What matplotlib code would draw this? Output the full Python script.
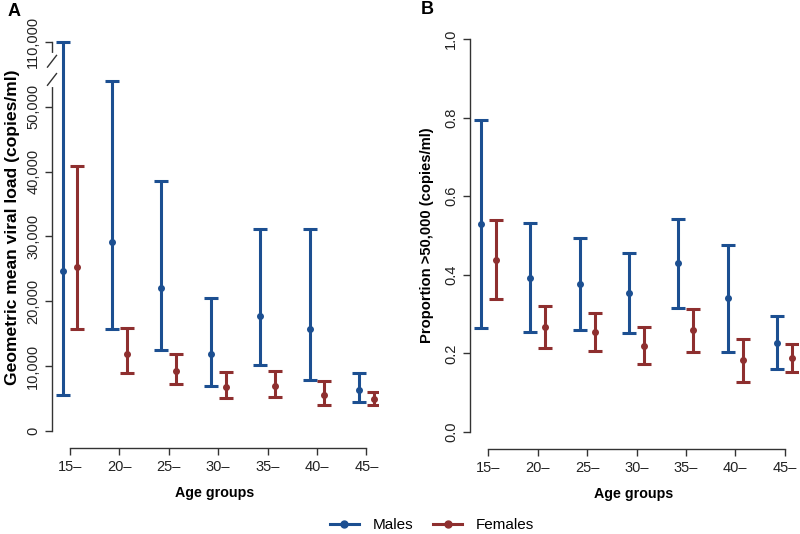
import matplotlib
matplotlib.use("Agg")
import matplotlib.pyplot as plt
import matplotlib.transforms as mtransforms
from matplotlib.lines import Line2D
import numpy as np

plt.rcParams['font.family'] = ['Liberation Sans', 'DejaVu Sans']

# data
age_groups = ["15–", "20–", "25–", "30–", "35–", "40–", "45–"]

# panel A: geometric mean viral load (copies/ml)
male_gm = [24700, 29100, 22000, 11900, 17800, 15700, 6300]
male_gm_lo = [5500, 15700, 12500, 6900, 10200, 7900, 4400]
male_gm_hi = [110000, 53900, 38600, 20500, 31100, 31200, 9000]
female_gm = [25300, 11900, 9300, 6800, 6900, 5600, 4900]
female_gm_lo = [15700, 8950, 7250, 5150, 5200, 3950, 4050]
female_gm_hi = [40800, 15950, 11900, 9100, 9250, 7750, 6050]

# panel B: proportion > 50,000 copies/ml
male_p = [0.529, 0.393, 0.377, 0.353, 0.429, 0.340, 0.227]
male_p_lo = [0.265, 0.254, 0.260, 0.251, 0.316, 0.204, 0.161]
male_p_hi = [0.795, 0.531, 0.494, 0.455, 0.542, 0.476, 0.295]
female_p = [0.438, 0.267, 0.254, 0.220, 0.259, 0.183, 0.188]
female_p_lo = [0.338, 0.215, 0.206, 0.173, 0.204, 0.128, 0.153]
female_p_hi = [0.539, 0.321, 0.302, 0.268, 0.314, 0.237, 0.223]

BLUE = "#1c4f91"
RED = "#8e2f2f"
AXC = "#333333"
OFF = 0.15


def squash(v):
    # values above the axis break are shifted down by 50,000
    v = np.asarray(v, dtype=float)
    return np.where(v > 60000, v - 50000, v)


def draw_series(ax, x, mid, lo, hi, color):
    mid, lo, hi = np.asarray(mid), np.asarray(lo), np.asarray(hi)
    ax.errorbar(x, mid, yerr=[mid - lo, hi - mid], fmt="o", color=color,
                ms=4, elinewidth=2.2, capsize=5, capthick=2.2)


def style_axes(ax):
    for s in ["top", "right"]:
        ax.spines[s].set_visible(False)
    for s in ["left", "bottom"]:
        ax.spines[s].set_color(AXC)
        ax.spines[s].set_linewidth(1.0)
    ax.tick_params(colors=AXC, labelcolor="#222222", labelsize=10.5,
                   length=5, width=1.0)
    ax.set_xticks(range(len(age_groups)))
    ax.set_xticklabels(age_groups)
    ax.spines["bottom"].set_bounds(0, len(age_groups) - 1)
    ax.set_xlabel("Age groups", fontsize=10.3, fontweight="bold", labelpad=9)


fig = plt.figure(figsize=(8, 5.34), dpi=100)
W, H = 800, 534

x = np.arange(len(age_groups))

# ---- panel A
axA = fig.add_axes([52 / W, (H - 448) / H, (378 - 52) / W, (448 - 34) / H])
draw_series(axA, x - OFF, squash(male_gm), squash(male_gm_lo), squash(male_gm_hi), BLUE)
draw_series(axA, x + OFF, squash(female_gm), squash(female_gm_lo), squash(female_gm_hi), RED)
axA.set_xlim(-0.364, (378 - 70) / 49.4)
axA.set_ylim(-2620, 61200)
style_axes(axA)
axA.set_yticks([0, 10000, 20000, 30000, 40000, 50000, 60000])
axA.set_yticklabels(["0", "10,000", "20,000", "30,000", "40,000", "50,000", "110,000"])
for lab in axA.get_yticklabels():
    lab.set_rotation(90)
    lab.set_va("center")
axA.spines["left"].set_bounds(0, 60000)
axA.set_ylabel("Geometric mean viral load (copies/ml)", fontsize=12.6,
               fontweight="bold", va="center")
axA.yaxis.set_label_coords((13 - 52) / 326, (448 - 227) / 414)

# axis break on the left spine
tr = mtransforms.blended_transform_factory(axA.transAxes, axA.transData)
axA.plot([0, 0], [53300, 57900], transform=tr, color="white", lw=3,
         clip_on=False, zorder=5)
dx = 4.5 / (378 - 52)
for yc in [54200, 57000]:
    axA.plot([-dx, dx], [yc - 900, yc + 900], transform=tr, color=AXC, lw=1.0,
             clip_on=False, zorder=6)

# ---- panel B
axB = fig.add_axes([470 / W, (H - 449) / H, (798 - 470) / W, (449 - 34) / H])
draw_series(axB, x - OFF, male_p, male_p_lo, male_p_hi, BLUE)
draw_series(axB, x + OFF, female_p, female_p_lo, female_p_hi, RED)
axB.set_xlim((470 - 488.3) / 49.4, (798 - 488.3) / 49.4)
axB.set_ylim(-17 / 393, 1 + 5 / 393)
style_axes(axB)
axB.set_yticks([0.0, 0.2, 0.4, 0.6, 0.8, 1.0])
axB.set_yticklabels(["0.0", "0.2", "0.4", "0.6", "0.8", "1.0"])
for lab in axB.get_yticklabels():
    lab.set_rotation(90)
    lab.set_va("center")
axB.spines["left"].set_bounds(0, 1)
axB.set_ylabel("Proportion >50,000 (copies/ml)", fontsize=10.6,
               fontweight="bold", va="center")
axB.yaxis.set_label_coords((427 - 470) / 328, (449 - 235.5) / 415)

fig.text(8 / W, 1 - 12 / H, "A", fontsize=13, fontweight="bold", va="center")
fig.text(421 / W, 1 - 10 / H, "B", fontsize=13, fontweight="bold", va="center")

handles = [Line2D([], [], color=BLUE, lw=2.2, marker="o", ms=5),
           Line2D([], [], color=RED, lw=2.2, marker="o", ms=5)]
fig.legend(handles, ["Males", "Females"], loc="center",
           bbox_to_anchor=(432 / W, 1 - 525 / H), ncol=2, frameon=False,
           fontsize=11, handlelength=1.9, columnspacing=1.3,
           handletextpad=0.9)

fig.savefig("out.png", dpi=100)
